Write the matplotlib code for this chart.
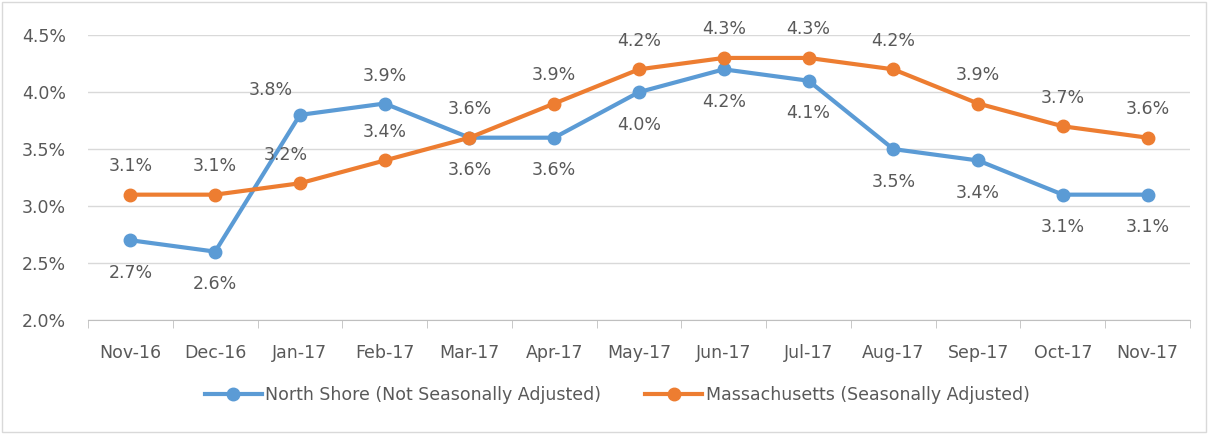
import matplotlib.pyplot as plt
from matplotlib.patches import Rectangle

months = ["Nov-16", "Dec-16", "Jan-17", "Feb-17", "Mar-17", "Apr-17", "May-17",
          "Jun-17", "Jul-17", "Aug-17", "Sep-17", "Oct-17", "Nov-17"]
north_shore = [2.7, 2.6, 3.8, 3.9, 3.6, 3.6, 4.0, 4.2, 4.1, 3.5, 3.4, 3.1, 3.1]
massachusetts = [3.1, 3.1, 3.2, 3.4, 3.6, 3.9, 4.2, 4.3, 4.3, 4.2, 3.9, 3.7, 3.6]
yticks = [2.0, 2.5, 3.0, 3.5, 4.0, 4.5]

blue = "#5B9BD5"
orange = "#ED7D31"
txt = "#595959"
fs = 12.5

plt.rcParams['font.family'] = ['DejaVu Sans']

fig = plt.figure(figsize=(12.1, 4.34), dpi=100)
ax = fig.add_axes([0.0727, 0.2627, 0.9108, 0.6563])

x = list(range(len(months)))
ax.plot(x, north_shore, color=blue, lw=3, marker="o", ms=9,
        label="North Shore (Not Seasonally Adjusted)", zorder=3)
ax.plot(x, massachusetts, color=orange, lw=3, marker="o", ms=9,
        label="Massachusetts (Seasonally Adjusted)", zorder=4)

# labels: north shore below except Jan/Feb, massachusetts above
for i, v in enumerate(north_shore):
    if i == 2:
        dx, dy = -21, 18
    elif i == 3:
        dx, dy = 0, 20
    else:
        dx, dy = 0, -23.5
    ax.annotate(f"{v:.1f}%", (i, v), xytext=(dx, dy), textcoords="offset points",
                ha="center", va="center", fontsize=fs, color=txt)
for i, v in enumerate(massachusetts):
    dx = -10 if i == 2 else 0
    ax.annotate(f"{v:.1f}%", (i, v), xytext=(dx, 20.5), textcoords="offset points",
                ha="center", va="center", fontsize=fs, color=txt)

ax.set_xlim(-0.5, len(months) - 0.5)
ax.set_ylim(2.0, 4.5)
ax.set_yticks(yticks)
ax.set_yticklabels([f"{t:.1f}%" for t in yticks])
ax.set_xticks(x)
ax.set_xticklabels(months)
ax.set_xticks([i - 0.5 for i in range(len(months) + 1)], minor=True)
ax.tick_params(axis="x", which="major", length=0, pad=17.5, labelsize=fs, colors=txt)
ax.tick_params(axis="x", which="minor", length=6, color="#BFBFBF")
ax.tick_params(axis="y", length=0, pad=16, labelsize=fs, colors=txt)

ax.grid(axis="y", color="#D9D9D9", lw=1)
ax.set_axisbelow(True)
for s in ["top", "left", "right"]:
    ax.spines[s].set_visible(False)
ax.spines["bottom"].set_color("#BFBFBF")

leg = fig.legend(loc="center", bbox_to_anchor=(0.51, 0.09), ncol=2, frameon=False,
                 fontsize=fs, handlelength=3.3, columnspacing=2.5, handletextpad=0.2)
for t in leg.get_texts():
    t.set_color(txt)

fig.patches.append(Rectangle((0.002, 0.004), 0.995, 0.992, transform=fig.transFigure,
                             fill=False, edgecolor="#D9D9D9", lw=1))

fig.savefig("out.png", dpi=100)
